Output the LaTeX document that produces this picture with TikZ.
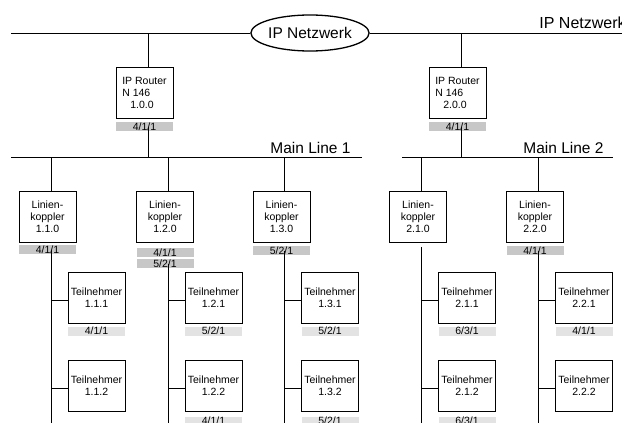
\documentclass[tikz,border=0pt]{standalone}
\usepackage{fontspec}
\setmainfont{Liberation Sans}
\usetikzlibrary{shapes.geometric}
\begin{document}
\begin{tikzpicture}[x=1pt,y=-1pt,line width=0.8pt,
  box/.style={draw, minimum width=57pt, minimum height=51pt, inner sep=0pt,
    font=\fontsize{10.5}{12}\selectfont, align=center},
  rbox/.style={box, align=left},
  dlab/.style={fill=black!22, minimum width=57pt, minimum height=9pt, inner sep=0pt,
    font=\fontsize{10.5}{10}\selectfont},
  llab/.style={dlab, fill=black!11},
  big/.style={font=\fontsize{15.5}{18}\selectfont, inner sep=0pt}]
\useasboundingbox (0,0) rectangle (622,423);
\clip (0,0) rectangle (622,423);

% buses
\coordinate (tl) at (11,33);
\coordinate (tr) at (622,33);
\coordinate (m1l) at (11,157);
\coordinate (m1r) at (362,157);
\coordinate (m2l) at (402,157);
\coordinate (m2r) at (613,157);
\coordinate (bot) at (0,430);

\node[ellipse, draw, line width=1.3pt, minimum width=114pt, minimum height=36pt, big] (net) at (310,33) {IP Netzwerk};
\node[big, anchor=west, font=\fontsize{16}{18}\selectfont] (netlabel) at (539,23) {IP Netzwerk};
\node[big, anchor=west] (ml1) at (270,148) {Main Line 1};
\node[big, anchor=west] (ml2) at (523,148) {Main Line 2};

% routers
\node[rbox] (r1) at (144.5,92.5) {IP Router\\N 146\\\hspace*{8pt}1.0.0};
\node[dlab] (r1lab) at (144.5,126.5) {4/1/1};
\node[rbox] (r2) at (457.5,92.5) {IP Router\\N 146\\\hspace*{8pt}2.0.0};
\node[dlab] (r2lab) at (457.5,126.5) {4/1/1};

% line couplers
\node[box] (lk11) at (47.5,217) {Linien-\\koppler\\1.1.0};
\node[dlab] (lk11lab) at (47.5,249.5) {4/1/1};
\node[box] (lk12) at (165,217) {Linien-\\koppler\\1.2.0};
\node[dlab] (lk12laba) at (165,252.5) {4/1/1};
\node[dlab] (lk12labb) at (165,263.5) {5/2/1};
\node[box] (lk13) at (281.5,217) {Linien-\\koppler\\1.3.0};
\node[dlab] (lk13lab) at (281.5,250.5) {5/2/1};
\node[box] (lk21) at (418,217) {Linien-\\koppler\\2.1.0};
\node[box] (lk22) at (535,217) {Linien-\\koppler\\2.2.0};
\node[dlab] (lk22lab) at (535,250.5) {4/1/1};

% participants
\node[box] (t111) at (96.5,297.5) {Teilnehmer\\1.1.1};
\node[llab] (t111lab) at (96.5,331) {4/1/1};
\node[box] (t112) at (96.5,386) {Teilnehmer\\1.1.2};
\node[box] (t121) at (213.5,297.5) {Teilnehmer\\1.2.1};
\node[llab] (t121lab) at (213.5,331) {5/2/1};
\node[box] (t122) at (213.5,386) {Teilnehmer\\1.2.2};
\node[llab] (t122lab) at (213.5,421) {4/1/1};
\node[box] (t131) at (330,297.5) {Teilnehmer\\1.3.1};
\node[llab] (t131lab) at (330,331) {5/2/1};
\node[box] (t132) at (330,386) {Teilnehmer\\1.3.2};
\node[llab] (t132lab) at (330,421) {5/2/1};
\node[box] (t211) at (467,297.5) {Teilnehmer\\2.1.1};
\node[llab] (t211lab) at (467,331) {6/3/1};
\node[box] (t212) at (467,386) {Teilnehmer\\2.1.2};
\node[llab] (t212lab) at (467,421) {6/3/1};
\node[box] (t221) at (584,297.5) {Teilnehmer\\2.2.1};
\node[llab] (t221lab) at (584,331) {4/1/1};
\node[box] (t222) at (584,386) {Teilnehmer\\2.2.2};

% line positions
\coordinate (vr1) at ([xshift=3.5pt]r1.south);
\coordinate (vr2) at ([xshift=3.5pt]r2.south);
\coordinate (v11) at ([xshift=3.5pt]lk11.south);
\coordinate (v12) at ([xshift=3pt]lk12.south);
\coordinate (v13) at ([xshift=2.5pt]lk13.south);
\coordinate (v21) at ([xshift=3pt]lk21.south);
\coordinate (v22) at ([xshift=3pt]lk22.south);

% connectors
\draw (tl) -- (net.west);
\draw (net.east) -- (tr);
\draw (m1l) -- (m1r);
\draw (m2l) -- (m2r);
\draw (vr1 |- r1.north) -- (vr1 |- tl);
\draw (vr2 |- r2.north) -- (vr2 |- tl);
\draw (vr1 |- r1lab.center) -- (vr1 |- m1l);
\draw (vr2 |- r2lab.center) -- (vr2 |- m2l);

\draw (v11 |- lk11.north) -- (v11 |- m1l);
\draw (v12 |- lk12.north) -- (v12 |- m1l);
\draw (v13 |- lk13.north) -- (v13 |- m1l);
\draw (v21 |- lk21.north) -- (v21 |- m2l);
\draw (v22 |- lk22.north) -- (v22 |- m2l);

\draw (v11 |- lk11lab.center) -- (v11 |- bot);
\draw (v12 |- lk12labb.center) -- (v12 |- bot);
\draw (v13 |- lk13lab.center) -- (v13 |- bot);
\draw ([yshift=-4pt]v21) -- (v21 |- bot);
\draw (v22 |- lk22lab.center) -- (v22 |- bot);

\draw ([yshift=-2.5pt]t111.west) -- ([yshift=-2.5pt]t111.west -| v11);
\draw ([yshift=-2.5pt]t112.west) -- ([yshift=-2.5pt]t112.west -| v11);
\draw ([yshift=-2.5pt]t121.west) -- ([yshift=-2.5pt]t121.west -| v12);
\draw ([yshift=-2.5pt]t122.west) -- ([yshift=-2.5pt]t122.west -| v12);
\draw ([yshift=-2.5pt]t131.west) -- ([yshift=-2.5pt]t131.west -| v13);
\draw ([yshift=-2.5pt]t132.west) -- ([yshift=-2.5pt]t132.west -| v13);
\draw ([yshift=-2.5pt]t211.west) -- ([yshift=-2.5pt]t211.west -| v21);
\draw ([yshift=-2.5pt]t212.west) -- ([yshift=-2.5pt]t212.west -| v21);
\draw ([yshift=-2.5pt]t221.west) -- ([yshift=-2.5pt]t221.west -| v22);
\draw ([yshift=-2.5pt]t222.west) -- ([yshift=-2.5pt]t222.west -| v22);
\end{tikzpicture}
\end{document}
